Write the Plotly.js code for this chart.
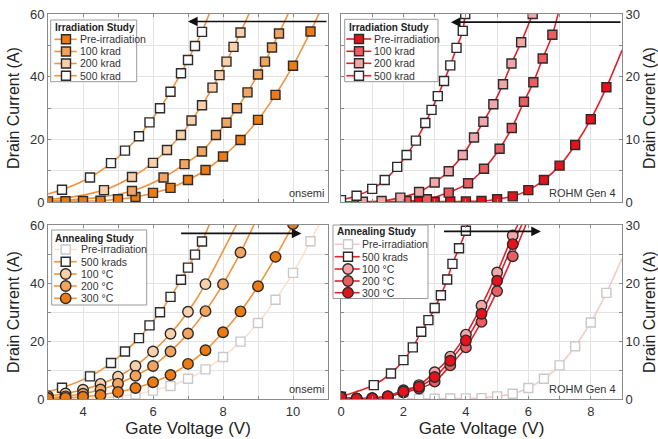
<!DOCTYPE html>
<html>
<head>
<meta charset="utf-8">
<script src="https://cdn.plot.ly/plotly-3.0.1.min.js"></script>
<style>html,body{margin:0;padding:0;background:#fff;}#chart{width:658px;height:439px;}</style>
</head>
<body>
<div id="chart"></div>
<script>
// ---------------- DATA ----------------
// onsemi – irradiation study (Gate Voltage V, Drain Current A)
const onPreX = [3,3.5,4,4.5,5,5.5,6,6.5,7,7.5,8,8.5,9,9.5,10,10.5];
const onPreY = [0.2,0.25,0.3,0.4,0.9,1.6,2.9,4.5,7.0,10.2,14.5,19.8,26.2,34.2,43.5,54.4];
const on100X = [5.4,6.3,6.9,7.4,7.8,8.1,8.4,8.7,9.0,9.2,9.4,9.6];
const on100Y = [3.5,7.8,12.1,16.1,21.4,25.3,29.9,35.0,40.7,44.8,49.3,53.8];
const on200X = [4.6,5.4,6.0,6.4,6.8,7.1,7.4,7.7,7.9,8.1,8.3,8.5];
const on200Y = [3.8,8.0,12.5,16.6,21.4,26.0,30.9,36.5,40.5,44.8,49.5,54.1];
const on500X = [3.4,4.2,4.8,5.2,5.6,5.9,6.2,6.5,6.8,7.0,7.2,7.4];
const on500Y = [3.9,7.8,12.4,16.4,21.0,25.4,29.9,35.2,41.1,45.3,49.8,54.3];
// fitted-curve points
const onPreFitX = [10.78];            const onPreFitY = [61];
const on100FitHeadX = [3.0,4.4];      const on100FitHeadY = [0.3,1.4];
const on100FitTailX = [9.9];          const on100FitTailY = [61];
const on200FitHeadX = [3.0,3.8];      const on200FitHeadY = [0.8,1.8];
const on200FitTailX = [8.78];         const on200FitTailY = [61];
const on500FitHeadX = [3.0];          const on500FitHeadY = [2.6];
const on500FitTailX = [7.64];         const on500FitTailY = [61];

// onsemi – annealing study
const onA100X = [3,3.5,4,4.5,5,5.5,6,6.5,7,7.5];
const onA100Y = [1.0,1.9,3.2,5.2,7.7,11.4,16.4,22.5,30.1,39.6];
const onA200X = [3,3.5,4,4.5,5,5.5,6,6.5,7,7.5,8,8.5];
const onA200Y = [0.4,0.9,1.8,3.3,5.3,8.0,11.4,16.4,22.6,30.3,39.6,50.5];
const onA300X = [3,3.5,4,4.5,5,5.5,6,6.5,7,7.5,8,8.5,9,9.5,10];
const onA300Y = [0.2,0.4,0.8,1.4,2.4,3.8,5.8,8.3,12.1,16.8,23.0,30.2,38.9,49.0,60.3];
const onA100TailX = [8.42]; const onA100TailY = [61];
const onA200TailX = [8.92]; const onA200TailY = [61];
const onA300TailX = [10.03]; const onA300TailY = [61.5];

// ROHM Gen 4 – irradiation study
const rPreX = [2,2.5,3,3.5,4,4.5,5,5.5,6,6.5,7,7.5,8,8.5];
const rPreY = [0.05,0.05,0.05,0.08,0.1,0.15,0.45,0.9,1.9,3.5,5.8,9.1,13.2,18.3];
const r100X = [2.1,2.75,3.45,4.07,4.58,5.08,5.47,5.86,6.16,6.46,6.77];
const r100Y = [0.15,0.45,1.5,3.0,5.3,8.5,11.8,16.0,19.1,22.9,26.7];
const r200X = [0.7,1.3,1.9,2.5,3.0,3.45,3.9,4.26,4.56,4.88,5.19,5.46,5.77,6.14];
const r200Y = [0.05,0.15,0.7,1.6,3.1,4.9,7.5,10.3,12.8,15.6,18.8,22.1,25.5,30.0];
const r500X = [0,0.5,1.0,1.4,1.8,2.1,2.4,2.7,2.9,3.1,3.3,3.5,3.7,3.9,3.98];
const r500Y = [0.3,1.0,2.1,3.5,5.6,7.5,9.8,12.6,14.7,16.9,19.3,21.8,24.6,27.3,30.0];
const rPreHeadX = [0,1.0];  const rPreHeadY = [0.05,0.05];
const rPreTailX = [9.0];    const rPreTailY = [24.2];
const r100HeadX = [0,1.0];  const r100HeadY = [0.05,0.05];
const r100TailX = [6.97];   const r100TailY = [30.4];
const r200HeadX = [0];      const r200HeadY = [0.05];
const r200TailX = [6.18];   const r200TailY = [30.5];
const r500TailX = [4.02];   const r500TailY = [30.6];

// ROHM Gen 4 – annealing study
const rA500X = [0,1.05,1.6,2.0,2.3,2.57,2.8,3.0,3.2,3.4,3.57,3.78,4.0];
const rA500Y = [0.4,2.4,4.4,6.7,8.9,11.6,13.6,15.7,17.9,20.6,23.3,26.0,29.0];
const rAX = [0,0.5,1,1.5,2,2.5,3,3.5,4,4.5,5,5.5];
const rA100Y = [0.3,0.1,0.15,0.5,1.5,2.4,4.6,7.3,11.1,16.1,21.8,28.2];
const rA200Y = [0.3,0.05,0.1,0.4,1.1,1.8,3.0,5.8,8.9,13.3,18.6,24.6];
const rA300Y = [0.3,0.05,0.12,0.45,1.3,2.1,3.8,6.6,10.1,14.7,20.4,26.7];
const rA500TailX = [4.08]; const rA500TailY = [30.6];
const rA100TailX = [5.66]; const rA100TailY = [30.0];
const rA200TailX = [5.92]; const rA200TailY = [30.0];
const rA300TailX = [5.79]; const rA300TailY = [30.0];

// arrows [tailX, tipX, y]
const arrowTL = [11, 7.0, 57.6];
const arrowTR = [9, 3.52, 28.7];
const arrowBL = [6.76, 10.24, 57.1];
const arrowBR = [3.25, 6.4, 28.9];

// texts
const irrTitle = 'Irradiation Study';
const annTitle = 'Annealing Study';
const irrLabels = ['Pre-irradiation','100 krad','200 krad','500 krad'];
const annLabels = ['Pre-irradiation','500 krads','100 °C','200 °C','300 °C'];
const xTitle = 'Gate Voltage (V)';
const yTitle = 'Drain Current (A)';
const onLabel = 'onsemi';
const rohmLabel = 'ROHM Gen 4';

// ---------------- STYLE ----------------
const FONT = 'Liberation Sans, Arial, sans-serif';
const OR_LINE = '#F2933D', ON_PRE = '#EE7A12', ON_100 = '#F3A45E', ON_200 = '#F9D0AA';
const OR_FADE = '#FBE1CC';
const RD_LINE = '#E2222A', R_PRE = '#E5121C', R_100 = '#EC5C60', R_200 = '#F3A6A8';
const RD_FADE = '#F4C9C9';
const EDGE = '#2b2b2b', FADE_EDGE = '#C9C9C9';
const SQ = 9, CI = 10.5;

const cat = (a,b,c) => (a||[]).concat(b, c||[]);

function curve(ax, xs, ys, color, w) {
  return {type:'scatter', mode:'lines', x:xs, y:ys, xaxis:'x'+ax, yaxis:'y'+ax,
    line:{color:color, width:w||1.6, shape:'spline', smoothing:0.9}, hoverinfo:'skip', showlegend:false};
}
function marks(ax, xs, ys, symbol, fill, edge, size) {
  return {type:'scatter', mode:'markers', x:xs, y:ys, xaxis:'x'+ax, yaxis:'y'+ax,
    marker:{symbol:symbol, size:size, color:fill, line:{color:edge, width:1.4}}, showlegend:false, hoverinfo:'skip'};
}

const traces = [
  // TL
  curve('', cat(null,onPreX,onPreFitX), cat(null,onPreY,onPreFitY), OR_LINE),
  curve('', cat(on100FitHeadX,on100X,on100FitTailX), cat(on100FitHeadY,on100Y,on100FitTailY), OR_LINE),
  curve('', cat(on200FitHeadX,on200X,on200FitTailX), cat(on200FitHeadY,on200Y,on200FitTailY), OR_LINE),
  curve('', cat(on500FitHeadX,on500X,on500FitTailX), cat(on500FitHeadY,on500Y,on500FitTailY), OR_LINE),
  marks('', onPreX, onPreY, 'square', ON_PRE, EDGE, SQ),
  marks('', on100X, on100Y, 'square', ON_100, EDGE, SQ),
  marks('', on200X, on200Y, 'square', ON_200, EDGE, SQ),
  marks('', on500X, on500Y, 'square', '#ffffff', EDGE, SQ),
  // TR
  curve('2', cat(rPreHeadX,rPreX,rPreTailX), cat(rPreHeadY,rPreY,rPreTailY), RD_LINE),
  curve('2', cat(r100HeadX,r100X,r100TailX), cat(r100HeadY,r100Y,r100TailY), RD_LINE),
  curve('2', cat(r200HeadX,r200X,r200TailX), cat(r200HeadY,r200Y,r200TailY), RD_LINE),
  curve('2', cat(null,r500X,r500TailX), cat(null,r500Y,r500TailY), RD_LINE),
  marks('2', rPreX, rPreY, 'square', R_PRE, EDGE, SQ),
  marks('2', r100X, r100Y, 'square', R_100, EDGE, SQ),
  marks('2', r200X, r200Y, 'square', R_200, EDGE, SQ),
  marks('2', r500X, r500Y, 'square', '#ffffff', EDGE, SQ),
  // BL
  curve('3', cat(null,onPreX,onPreFitX), cat(null,onPreY,onPreFitY), OR_FADE),
  curve('3', cat(on500FitHeadX,on500X,on500FitTailX), cat(on500FitHeadY,on500Y,on500FitTailY), OR_LINE),
  curve('3', cat(null,onA100X,onA100TailX), cat(null,onA100Y,onA100TailY), OR_LINE),
  curve('3', cat(null,onA200X,onA200TailX), cat(null,onA200Y,onA200TailY), OR_LINE),
  curve('3', cat(null,onA300X,onA300TailX), cat(null,onA300Y,onA300TailY), OR_LINE),
  marks('3', onPreX, onPreY, 'square', '#ffffff', FADE_EDGE, SQ),
  marks('3', on500X, on500Y, 'square', '#ffffff', EDGE, SQ),
  marks('3', onA100X, onA100Y, 'circle', ON_200, EDGE, CI),
  marks('3', onA200X, onA200Y, 'circle', ON_100, EDGE, CI),
  marks('3', onA300X, onA300Y, 'circle', ON_PRE, EDGE, CI),
  // BR
  curve('4', cat(rPreHeadX,rPreX,rPreTailX), cat(rPreHeadY,rPreY,rPreTailY), RD_FADE),
  curve('4', cat(null,rA500X,rA500TailX), cat(null,rA500Y,rA500TailY), RD_LINE),
  curve('4', cat(null,rAX,rA100TailX), cat(null,rA100Y,rA100TailY), RD_LINE),
  curve('4', cat(null,rAX,rA200TailX), cat(null,rA200Y,rA200TailY), RD_LINE),
  curve('4', cat(null,rAX,rA300TailX), cat(null,rA300Y,rA300TailY), RD_LINE),
  marks('4', rPreX, rPreY, 'square', '#ffffff', FADE_EDGE, SQ),
  marks('4', rA500X, rA500Y, 'square', '#ffffff', EDGE, SQ),
  marks('4', rAX, rA100Y, 'circle', R_200, EDGE, CI),
  marks('4', rAX, rA200Y, 'circle', R_100, EDGE, CI),
  marks('4', rAX, rA300Y, 'circle', R_PRE, EDGE, CI)
];

// ---------------- LAYOUT ----------------
const L = 48, R = 622, T = 14, B = 399, W = R - L, H = B - T;
const PX = v => (v - L) / W;
const PY = v => (B - v) / H;

const gridC = '#e3e3e3', lineC = '#8a8a8a';
function xAx(dom, range, anchor, labels) {
  const a = {domain:dom, range:range, anchor:anchor, showticklabels:labels, tick0:0, dtick:2,
    ticks:'inside', ticklen:3, tickcolor:lineC, showline:true, mirror:'ticks', linecolor:lineC, linewidth:1,
    showgrid:true, gridcolor:gridC, gridwidth:1, zeroline:false,
    minor:{dtick:1, showgrid:true, gridcolor:gridC, ticks:'inside', ticklen:3, tickcolor:lineC},
    tickfont:{family:FONT, size:13, color:'#333'}, fixedrange:true};
  if (labels) a.title = {text:xTitle, font:{family:FONT, size:17, color:'#222'}, standoff:4};
  return a;
}
function yAx(dom, range, anchor, side, dt) {
  return {domain:dom, range:range, anchor:anchor, side:side, tick0:0, dtick:dt,
    ticks:'inside', ticklen:3, tickcolor:lineC, showline:true, mirror:'ticks', linecolor:lineC, linewidth:1,
    showgrid:true, gridcolor:gridC, gridwidth:1, zeroline:false,
    minor:{dtick:dt/2, showgrid:true, gridcolor:gridC, ticks:'inside', ticklen:3, tickcolor:lineC},
    tickfont:{family:FONT, size:13, color:'#333'},
    title:{text:yTitle, font:{family:FONT, size:16, color:'#222'}, standoff:6}, fixedrange:true};
}
const xL = [PX(48), PX(328)], xR = [PX(341), PX(622)];
const yT = [PY(202), PY(14)], yB = [PY(399), PY(225)];

const shapes = [], annotations = [];

function legend(box, titleXY, title, rowsY, lineX, markX, textX, items) {
  shapes.push({type:'rect', xref:'paper', yref:'paper', x0:PX(box[0]), x1:PX(box[2]), y0:PY(box[3]), y1:PY(box[1]),
    fillcolor:'#ffffff', line:{color:'#9a9a9a', width:1}});
  annotations.push({xref:'paper', yref:'paper', x:PX(titleXY[0]), y:PY(titleXY[1]), xanchor:'left', yanchor:'middle',
    text:'<b>'+title+'</b>', showarrow:false, font:{family:FONT, size:10, color:'#222'}, borderpad:0});
  items.forEach((it, i) => {
    const y = PY(rowsY[i]);
    shapes.push({type:'line', xref:'paper', yref:'paper', x0:PX(lineX[0]), x1:PX(lineX[1]), y0:y, y1:y,
      line:{color:it.line, width:1.6}});
    const s = it.sym === 'circle' ? 5.2 : 4.5;
    shapes.push({type:it.sym === 'circle' ? 'circle' : 'rect', xref:'paper', yref:'paper',
      xsizemode:'pixel', ysizemode:'pixel', xanchor:PX(markX), yanchor:y, x0:-s, x1:s, y0:-s, y1:s,
      fillcolor:it.fill, line:{color:it.edge, width:1.4}});
    annotations.push({xref:'paper', yref:'paper', x:PX(textX), y:y, xanchor:'left', yanchor:'middle',
      text:it.label, showarrow:false, font:{family:FONT, size:10.5, color:'#333'}, borderpad:0});
  });
}

legend([50.7,20,136.7,81.7], [54,27.5], irrTitle, [39.3,51.5,63.5,75.7], [54.3,76.7], 66, 79, [
  {line:OR_LINE, sym:'square', fill:ON_PRE, edge:EDGE, label:irrLabels[0]},
  {line:OR_LINE, sym:'square', fill:ON_100, edge:EDGE, label:irrLabels[1]},
  {line:OR_LINE, sym:'square', fill:ON_200, edge:EDGE, label:irrLabels[2]},
  {line:OR_LINE, sym:'square', fill:'#ffffff', edge:EDGE, label:irrLabels[3]}]);
legend([344.7,19.3,438,81.7], [348,27], irrTitle, [39,51.3,63.3,75.7], [346.3,371.3], 359, 372.5, [
  {line:RD_LINE, sym:'square', fill:R_PRE, edge:EDGE, label:irrLabels[0]},
  {line:RD_LINE, sym:'square', fill:R_100, edge:EDGE, label:irrLabels[1]},
  {line:RD_LINE, sym:'square', fill:R_200, edge:EDGE, label:irrLabels[2]},
  {line:RD_LINE, sym:'square', fill:'#ffffff', edge:EDGE, label:irrLabels[3]}]);
legend([51.7,230,146.7,305], [54,238.3], annTitle, [249.5,261.7,274,286,298.3], [54,76.7], 65.7, 79.5, [
  {line:OR_FADE, sym:'square', fill:'#ffffff', edge:FADE_EDGE, label:annLabels[0]},
  {line:OR_LINE, sym:'square', fill:'#ffffff', edge:EDGE, label:annLabels[1]},
  {line:OR_LINE, sym:'circle', fill:ON_200, edge:EDGE, label:annLabels[2]},
  {line:OR_LINE, sym:'circle', fill:ON_100, edge:EDGE, label:annLabels[3]},
  {line:OR_LINE, sym:'circle', fill:ON_PRE, edge:EDGE, label:annLabels[4]}]);
legend([333,225,428,298.5], [336,231.7], annTitle, [244.3,256.7,269,281,292.7], [334.7,359.7], 348, 361, [
  {line:RD_FADE, sym:'square', fill:'#ffffff', edge:FADE_EDGE, label:annLabels[0]},
  {line:RD_LINE, sym:'square', fill:'#ffffff', edge:EDGE, label:annLabels[1]},
  {line:RD_LINE, sym:'circle', fill:R_200, edge:EDGE, label:annLabels[2]},
  {line:RD_LINE, sym:'circle', fill:R_100, edge:EDGE, label:annLabels[3]},
  {line:RD_LINE, sym:'circle', fill:R_PRE, edge:EDGE, label:annLabels[4]}]);

function arrow(ax, a) {
  annotations.push({xref:'x'+ax, yref:'y'+ax, axref:'x'+ax, ayref:'y'+ax, x:a[1], y:a[2], ax:a[0], ay:a[2],
    showarrow:true, arrowhead:2, arrowsize:1.2, arrowwidth:1.6, arrowcolor:'#111', text:'', standoff:0});
}
arrow('', arrowTL); arrow('2', arrowTR); arrow('3', arrowBL); arrow('4', arrowBR);

function tag(text, xRight, yMid) {
  annotations.push({xref:'paper', yref:'paper', x:PX(xRight), y:PY(yMid), xanchor:'right', yanchor:'middle',
    text:text, showarrow:false, font:{family:FONT, size:11, color:'#333'}, borderpad:0});
}
tag(onLabel, 325, 193); tag(rohmLabel, 617, 193); tag(onLabel, 325, 389); tag(rohmLabel, 617, 388.5);

const layout = {
  width:658, height:439, margin:{l:L, r:658-R, t:T, b:439-B}, paper_bgcolor:'#fff', plot_bgcolor:'#fff',
  showlegend:false, font:{family:FONT, color:'#333'},
  xaxis:xAx(xL,[3,11],'y',false), yaxis:yAx(yT,[0,60],'x','left',20),
  xaxis2:xAx(xR,[0,9],'y2',false), yaxis2:yAx(yT,[0,30],'x2','right',10),
  xaxis3:xAx(xL,[3,11],'y3',true), yaxis3:yAx(yB,[0,60],'x3','left',20),
  xaxis4:xAx(xR,[0,9],'y4',true), yaxis4:yAx(yB,[0,30],'x4','right',10),
  shapes:shapes, annotations:annotations
};
Plotly.newPlot('chart', traces, layout, {staticPlot:true, displayModeBar:false});
</script>
</body>
</html>
